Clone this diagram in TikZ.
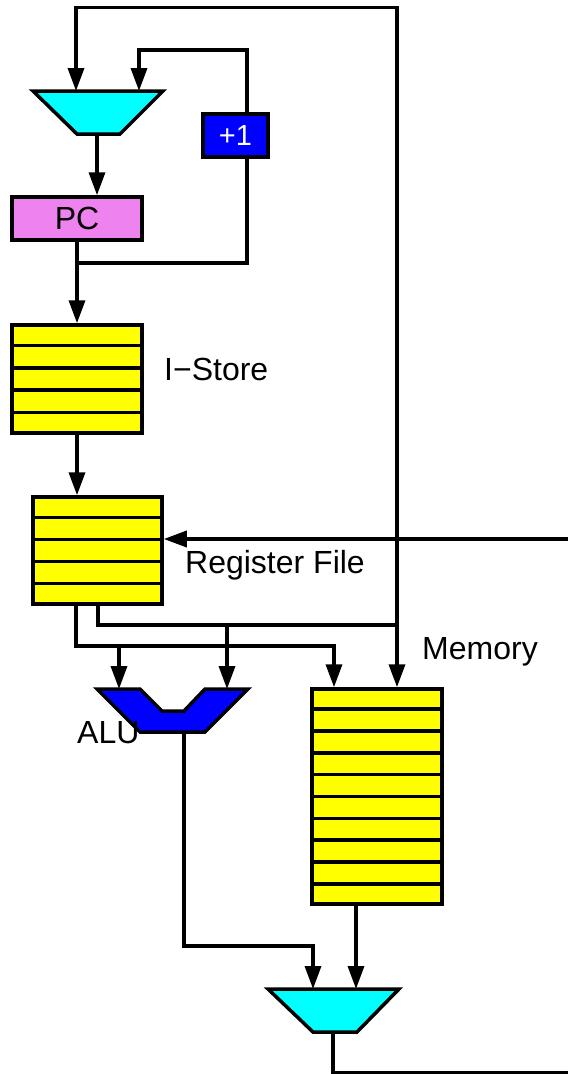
\documentclass[tikz,border=0pt]{standalone}
\usepackage{fontspec}
\setmainfont{Liberation Sans}
\usetikzlibrary{arrows.meta,calc}
\definecolor{muxcyan}{RGB}{0,255,255}
\definecolor{alublue}{RGB}{0,0,255}
\definecolor{pcviolet}{RGB}{238,130,238}
\definecolor{storeyellow}{RGB}{255,255,0}

\begin{document}
\begin{tikzpicture}[x=1pt,y=-1pt,
  wire/.style={line width=3.5pt},
  flow/.style={wire,-{Triangle[length=23pt,width=16pt]}},
  unit/.style={draw,line width=3.5pt,rectangle,inner sep=0pt},
  stack/.style={unit,fill=storeyellow},
  shapeline/.style={draw,line width=3.5pt,line join=miter},
  lbl/.style={font=\fontsize{32}{38}\selectfont,inner sep=0pt,anchor=base west}]

\useasboundingbox (0,0) rectangle (568,1074);

% ---------- blocks ----------
\node[unit,fill=pcviolet,minimum width=130pt,minimum height=43pt,
      font=\fontsize{32}{38}\selectfont] (pc) at (77,218.5) {PC};
\node[unit,fill=alublue,text=white,minimum width=65pt,minimum height=43pt,
      font=\fontsize{29}{34}\selectfont] (inc) at (235.5,135.5) {+1};
\node[stack,minimum width=130pt,minimum height=108pt] (istore) at (77,379) {};
\node[stack,minimum width=129pt,minimum height=107pt] (regfile) at (97.5,550.5) {};
\node[stack,minimum width=130pt,minimum height=215pt] (memory) at (377,796.5) {};

% rows of the storage blocks
\foreach \k in {1,...,4}{
  \draw[wire] ($(istore.north west)!{\k/5}!(istore.south west)$) --
              ($(istore.north east)!{\k/5}!(istore.south east)$);
  \draw[wire] ($(regfile.north west)!{\k/5}!(regfile.south west)$) --
              ($(regfile.north east)!{\k/5}!(regfile.south east)$);
}
\foreach \k in {1,...,9}{
  \draw[wire] ($(memory.north west)!{\k/10}!(memory.south west)$) --
              ($(memory.north east)!{\k/10}!(memory.south east)$);
}

% multiplexers and ALU
\draw[shapeline,fill=muxcyan] (33,91) -- (163,91) -- (120,134) -- (77,134) -- cycle;
\draw[shapeline,fill=muxcyan] (268,989) -- (399,989) -- (357,1032) -- (313,1032) -- cycle;
\draw[shapeline,fill=alublue] (97,689) -- (140,689) -- (162,711) -- (184,711) -- (205,689)
  -- (248,689) -- (205,732) -- (140,732) -- cycle;

% ports
\coordinate (pcmuxA) at (76,91);
\coordinate (pcmuxB) at (139,91);
\coordinate (pcmuxOut) at (97,134);
\coordinate (wbmuxA) at (313,989);
\coordinate (wbmuxB) at (356,989);
\coordinate (wbmuxOut) at (333,1032);
\coordinate (aluA) at (119,689);
\coordinate (aluB) at (227,689);
\coordinate (aluOut) at (184,732);
\coordinate (pcTap) at (77,263);
\coordinate (busTap) at (397,625);
\coordinate (wbEnd) at (568,1073);
\coordinate (wbIn) at (568,539);

% ---------- labels ----------
\node[lbl] (lIstore) at (164,380) {I−Store};
\node[lbl] (lRegfile) at (185,573) {Register File};
\node[lbl] (lMemory) at (422,659) {Memory};
\node[lbl] (lAlu) at (77,743) {ALU};

% ---------- connectors ----------
% PC loop
\draw[flow] (pcmuxOut) -- (pcmuxOut |- pc.north);
\draw[flow] (pc.south) -- (istore.north);
\draw[wire] (pcTap) -- (247,263) -- (247,0 |- inc.south);
\draw[flow] (247,0 |- inc.north) -- (247,50) -- (139,50) -- (pcmuxB);
% instruction fetch
\draw[flow] (istore.south) -- (istore.south |- regfile.north);
% register file outputs
\draw[wire] (98,0 |- regfile.south) -- (98,625) -- (busTap);
\draw[flow] (busTap) -- (busTap |- memory.north);
\draw[flow] (busTap) -- (397,7.5) -- (76,7.5) -- (pcmuxA);
\draw[flow] (227,625) -- (aluB);
\draw[flow] (76,0 |- regfile.south) -- (76,646) -- (334,646) -- (334,0 |- memory.north);
\draw[flow] (119,646) -- (aluA);
% write back
\draw[flow] (aluOut) -- (184,946) -- (313,946) -- (wbmuxA);
\draw[flow] (356,0 |- memory.south) -- (wbmuxB);
\draw[wire] (wbmuxOut) -- (333,1073) -- (wbEnd);
\draw[flow] (wbIn) -- (wbIn -| regfile.east);
\end{tikzpicture}
\end{document}
